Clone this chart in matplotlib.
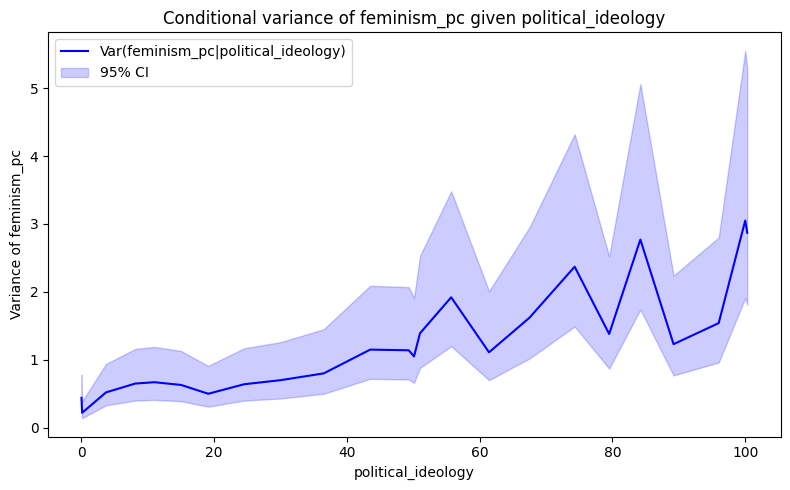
import numpy as np
import matplotlib.pyplot as plt

# conditional variance curve
ideology = [0.0, 0.1, 3.7, 8.1, 11.0, 15.0, 19.1, 24.5, 30.0, 36.5, 43.5, 49.3,
            50.1, 51.0, 55.7, 61.4, 67.5, 74.3, 79.5, 84.2, 89.2, 96.0, 100.0, 100.3]
variance = [0.44, 0.22, 0.52, 0.65, 0.67, 0.63, 0.50, 0.64, 0.70, 0.80, 1.15, 1.14,
            1.05, 1.39, 1.92, 1.11, 1.62, 2.37, 1.38, 2.77, 1.23, 1.54, 3.05, 2.87]
ci_upper = [0.78, 0.39, 0.94, 1.16, 1.19, 1.13, 0.91, 1.17, 1.26, 1.45, 2.09, 2.07,
            1.91, 2.53, 3.48, 2.01, 2.95, 4.32, 2.52, 5.06, 2.24, 2.80, 5.55, 5.29]
ci_lower = [0.25, 0.14, 0.33, 0.40, 0.41, 0.39, 0.31, 0.40, 0.43, 0.50, 0.72, 0.71,
            0.66, 0.88, 1.20, 0.70, 1.02, 1.49, 0.87, 1.74, 0.77, 0.96, 1.91, 1.81]

fig, ax = plt.subplots(figsize=(7.9, 4.9), dpi=100)

ax.plot(ideology, variance, color='blue', label='Var(feminism_pc|political_ideology)')
ax.fill_between(ideology, ci_lower, ci_upper, color='blue', alpha=0.2, label='95% CI')

ax.set_xlabel('political_ideology')
ax.set_ylabel('Variance of feminism_pc')
ax.set_title('Conditional variance of feminism_pc given political_ideology')
ax.legend(loc='upper left')

# match the reference's axes box
fig.subplots_adjust(left=0.061, right=0.988, top=0.934, bottom=0.109)
plt.savefig('out.png')
